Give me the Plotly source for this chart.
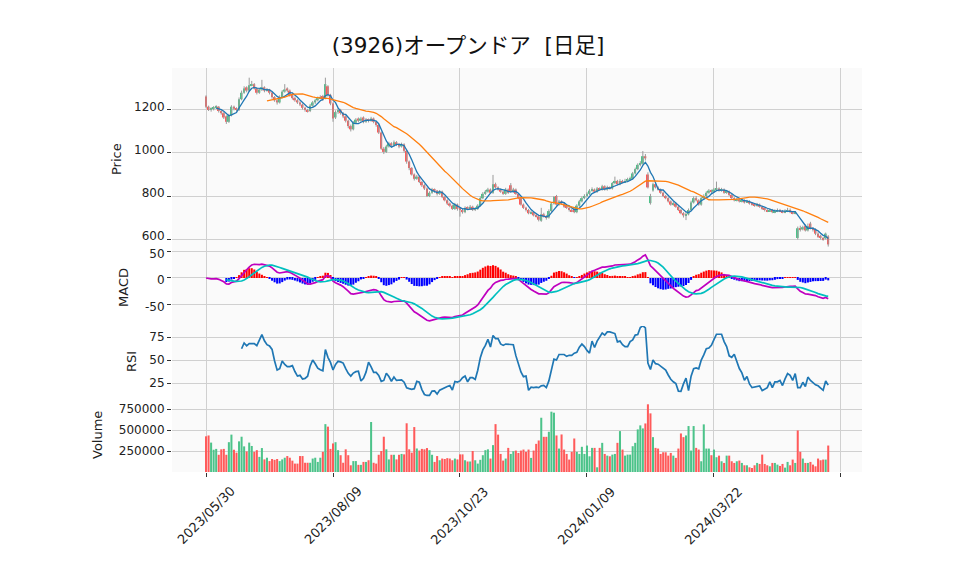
import plotly.graph_objects as go
from plotly.subplots import make_subplots
import pandas as pd

title_text = "(3926)オープンドア  [日足]"
tick_index = [0, 50, 100, 150, 200, 250]
tick_labels = ["2023/05/30", "2023/08/09", "2023/10/23", "2024/01/09", "2024/03/22", ""]

opens = [
1262,1215,1200,1205,1210,1215,1195,1185,1170,1145,
1175,1215,1205,1200,1250,1280,1305,1290,1315,1320,
1300,1280,1295,1305,1290,1295,1280,1260,1245,1235,
1260,1285,1300,1290,1270,1255,1245,1235,1225,1210,
1200,1195,1220,1235,1245,1255,1265,1254,1310,1270,
1230,1165,1190,1200,1185,1170,1150,1125,1110,1140,
1160,1150,1165,1145,1155,1150,1160,1145,1130,1095,
1020,1005,1030,1045,1035,1050,1040,1030,1040,1010,
960,930,900,880,890,865,850,835,800,815,
830,825,810,820,795,780,765,755,740,760,
740,735,725,745,740,750,735,740,755,790,
810,820,830,815,855,840,830,820,810,830,
850,820,830,810,790,760,745,735,720,725,
710,705,685,715,705,700,730,765,800,760,
775,765,750,745,735,740,725,755,775,790,
800,810,825,830,820,835,830,845,830,840,
835,860,870,855,870,865,870,875,880,905,
925,945,950,985,900,767,825,855,840,830,
815,800,790,775,760,765,750,735,720,710,
715,735,770,790,780,760,790,800,815,825,
820,830,835,825,830,815,820,805,790,780,
785,775,780,770,775,765,760,755,760,750,
740,735,730,735,725,730,735,730,725,730,
735,725,720,605,650,645,660,640,672,650,
645,625,615,605,603,612]

highs = [
1268,1220,1212,1218,1222,1218,1200,1190,1175,1182,
1222,1220,1212,1258,1290,1310,1310,1350,1335,1325,
1305,1302,1340,1310,1302,1298,1285,1265,1250,1268,
1292,1320,1305,1295,1275,1262,1250,1240,1230,1215,
1205,1228,1242,1252,1262,1268,1270,1350,1315,1275,
1235,1198,1210,1205,1190,1175,1155,1132,1148,1162,
1165,1168,1170,1162,1160,1168,1165,1150,1135,1100,
1028,1038,1052,1050,1058,1055,1045,1048,1045,1015,
965,935,905,898,895,870,855,840,822,838,
835,828,828,825,800,785,770,760,768,765,
745,740,752,752,758,755,748,762,798,818,
828,838,835,898,862,845,835,825,838,835,
860,838,835,812,795,765,750,740,732,730,
718,710,745,722,712,738,770,800,805,782,
780,770,755,750,742,745,762,782,798,808,
818,832,840,835,842,840,852,850,848,845,
865,890,875,878,875,880,885,890,912,932,
952,962,1009,995,910,810,862,860,845,835,
820,805,795,780,775,770,755,740,725,725,
742,778,798,800,785,798,808,822,832,830,
838,867,840,838,835,828,825,810,795,792,
790,788,785,782,780,770,765,768,765,755,
745,740,742,740,738,742,740,735,738,745,
742,730,730,658,662,662,668,672,680,655,
650,632,620,610,630,618]

lows = [
1208,1195,1192,1198,1205,1188,1178,1158,1135,1140,
1170,1198,1192,1195,1245,1275,1282,1285,1310,1295,
1272,1275,1288,1282,1285,1272,1252,1238,1225,1230,
1255,1280,1282,1262,1248,1238,1228,1218,1202,1192,
1188,1190,1215,1228,1240,1250,1242,1250,1262,1222,
1145,1158,1182,1178,1162,1142,1115,1100,1105,1135,
1142,1145,1138,1140,1142,1145,1138,1122,1088,1015,
995,1000,1025,1028,1030,1032,1022,1025,1002,950,
920,895,872,875,860,842,828,795,795,810,
815,802,805,790,775,758,748,735,735,732,
704,718,720,735,735,730,730,735,750,785,
805,815,810,810,835,825,815,805,805,810,
815,815,805,785,755,740,728,715,715,705,
700,682,680,700,690,695,725,760,755,755,
760,745,740,728,725,720,720,750,770,785,
795,805,820,815,815,825,825,825,825,830,
830,855,850,850,860,860,865,870,875,900,
920,938,945,965,835,760,820,835,825,810,
795,785,770,755,755,745,730,715,700,688,
710,730,765,775,755,755,785,795,810,812,
815,825,820,820,810,810,800,785,775,775,
770,770,765,768,760,755,750,750,745,735,
728,725,728,720,720,725,725,720,720,725,
720,715,715,598,635,640,635,635,645,635,
618,605,598,592,598,565]

closes = [
1215,1200,1205,1210,1215,1195,1185,1165,1145,1175,
1215,1205,1200,1250,1280,1300,1290,1315,1320,1300,
1280,1295,1305,1290,1295,1280,1260,1245,1235,1260,
1285,1295,1290,1270,1255,1245,1235,1225,1210,1200,
1195,1220,1235,1245,1255,1260,1250,1320,1270,1230,
1160,1190,1200,1185,1170,1150,1125,1110,1140,1155,
1150,1160,1145,1155,1150,1160,1145,1130,1095,1020,
1005,1030,1045,1035,1050,1040,1030,1040,1010,960,
930,900,880,890,865,850,835,800,815,830,
825,810,820,795,780,765,755,740,760,740,
735,725,745,740,750,735,740,755,790,810,
820,830,815,855,840,830,820,810,830,815,
820,830,810,790,760,745,735,720,725,710,
705,690,715,705,700,730,765,795,760,775,
765,750,745,735,730,725,755,775,790,800,
810,825,830,820,835,830,845,830,840,835,
860,870,855,870,865,870,875,880,905,925,
945,950,985,975,840,800,855,840,830,815,
800,790,775,760,765,750,735,720,710,715,
735,770,790,780,760,790,800,815,825,820,
830,835,825,830,815,820,805,790,780,785,
775,780,770,775,765,760,755,760,750,740,
735,730,735,725,730,735,730,725,730,735,
725,720,725,650,645,655,640,660,650,645,
625,610,605,600,625,575]

volumes = [
425000,435000,350000,265000,275000,205000,270000,275000,205000,355000,
445000,265000,230000,365000,420000,305000,245000,350000,310000,240000,
260000,180000,285000,150000,170000,130000,155000,145000,155000,130000,
150000,170000,190000,170000,135000,100000,100000,190000,190000,110000,
110000,110000,160000,170000,120000,170000,240000,570000,540000,275000,
340000,355000,260000,200000,110000,270000,200000,80000,130000,130000,
85000,85000,120000,120000,140000,595000,110000,100000,205000,250000,
420000,270000,150000,205000,205000,150000,205000,215000,210000,580000,
270000,230000,535000,280000,255000,275000,270000,285000,260000,205000,
120000,190000,140000,160000,155000,165000,160000,140000,160000,150000,
210000,210000,140000,125000,125000,250000,140000,100000,145000,200000,
260000,270000,160000,320000,570000,445000,215000,136000,160000,287000,
215000,247000,255000,227000,255000,267000,240000,267000,168000,255000,
335000,375000,646000,419000,419000,479000,718000,706000,435000,279000,
447000,267000,215000,148000,240000,399000,240000,215000,300000,215000,
315000,187000,287000,287000,56000,287000,347000,215000,195000,187000,
207000,215000,347000,487000,267000,195000,207000,207000,307000,347000,
507000,555000,519000,578000,806000,698000,415000,287000,279000,215000,
235000,235000,195000,227000,195000,168000,279000,459000,415000,435000,
547000,255000,547000,287000,267000,128000,567000,279000,279000,200000,
267000,176000,195000,128000,108000,195000,195000,128000,108000,128000,
136000,108000,80000,80000,56000,48000,80000,108000,96000,207000,
96000,80000,68000,108000,108000,88000,72000,96000,52000,120000,
80000,148000,108000,495000,240000,160000,108000,108000,120000,88000,
68000,160000,140000,148000,148000,315000]

UP = "#4cc38a"
DOWN = "#ff5a5a"
WICK = "#9a9a9a"

n = len(closes)
idx = list(range(n))
s = pd.Series(closes, dtype=float)
ma5 = s.rolling(5).mean()
ma25 = s.rolling(25).mean()
macd = s.ewm(span=12, adjust=False).mean() - s.ewm(span=26, adjust=False).mean()
signal = macd.rolling(9).mean()
hist = macd - signal
delta = s.diff()
gain = delta.clip(lower=0).rolling(14).mean()
loss = (-delta.clip(upper=0)).rolling(14).mean()
rsi = 100 - 100 / (1 + gain / loss)

body_h = [abs(c - o) for o, c in zip(opens, closes)]
body_b = [min(o, c) for o, c in zip(opens, closes)]
body_c = [UP if c >= o else DOWN for o, c in zip(opens, closes)]
vol_c = [UP if closes[0] >= opens[0] else DOWN] + [UP if closes[i] >= closes[i - 1] else DOWN for i in range(1, n)]
hist_c = ["#ff0000" if (h >= 0) else "#0000ff" for h in hist.fillna(0)]

wx, wy = [], []
for i in idx:
    wx += [i, i, None]
    wy += [lows[i], highs[i], None]

fig = make_subplots(rows=4, cols=1, shared_xaxes=True, vertical_spacing=0,
                    row_heights=[182, 76, 72, 74])

fig.add_trace(go.Scatter(x=wx, y=wy, mode="lines", line=dict(color=WICK, width=1), hoverinfo="skip"), row=1, col=1)
fig.add_trace(go.Bar(x=idx, y=body_h, base=body_b, marker=dict(color=body_c, line=dict(width=0)), width=0.75), row=1, col=1)
fig.add_trace(go.Scatter(x=idx, y=ma5, mode="lines", line=dict(color="#1f77b4", width=1.3)), row=1, col=1)
fig.add_trace(go.Scatter(x=idx, y=ma25, mode="lines", line=dict(color="#ff7f0e", width=1.3)), row=1, col=1)

fig.add_trace(go.Bar(x=idx, y=hist, marker=dict(color=hist_c, line=dict(width=0)), width=0.8), row=2, col=1)
fig.add_trace(go.Scatter(x=idx, y=macd, mode="lines", line=dict(color="#bf00bf", width=1.7)), row=2, col=1)
fig.add_trace(go.Scatter(x=idx, y=signal, mode="lines", line=dict(color="#00bfbf", width=1.7)), row=2, col=1)

fig.add_trace(go.Scatter(x=idx, y=rsi, mode="lines", line=dict(color="#1f77b4", width=1.7)), row=3, col=1)

fig.add_trace(go.Bar(x=idx, y=volumes, marker=dict(color=vol_c, line=dict(width=0)), width=0.8), row=4, col=1)

GRID = "#d0d0d0"
FONT = "DejaVu Sans, Noto Sans CJK JP"
for r in range(1, 5):
    fig.update_xaxes(row=r, col=1, range=[-13.4, 258.3], tickvals=tick_index,
                     showgrid=True, gridcolor=GRID, gridwidth=1.2, zeroline=False, showline=False,
                     showticklabels=False, ticks=("outside" if r == 4 else ""), ticklen=4,
                     tickcolor="#333333", automargin=False)

# ticklabelshift: positive values move y labels down on screen
yspecs = [
    (1, [549, 1395], [600, 800, 1000, 1200], -3),
    (2, [-90.6, 52.8], [-50, 0, 50], 2),
    (3, [8.7, 87], [25, 50, 75], 0),
    (4, [0, 881000], [250000, 500000, 750000], 0),
]
for r, rng, tv, shift in yspecs:
    fig.update_yaxes(row=r, col=1, range=rng, tickvals=tv, ticktext=[str(v) for v in tv],
                     showgrid=True, gridcolor=GRID, gridwidth=1.2, zeroline=False, showline=False,
                     ticks="outside", ticklen=4, tickcolor="#333333", automargin=False,
                     ticklabelshift=shift,
                     tickfont=dict(family=FONT, size=12, color="#222222"))

# the page body has an 8px offset, so the plot area is placed to compensate
OFF = 8
W, H = 958, 575
L, R, T, B = 172, 862, 68, 472

anns = []
ylabels = [("Price", 116, 159), ("MACD", 123, 288), ("RSI", 131, 362), ("Volume", 97, 435)]
for txt, px, py in ylabels:
    anns.append(dict(text=txt, x=(px - L) / (R - L), y=(B - py) / (B - T), xref="paper", yref="paper",
                     showarrow=False, textangle=-90, xanchor="center", yanchor="middle",
                     font=dict(family=FONT, size=13, color="#222222")))

# date labels centred under their ticks, rotated 45 degrees
for tv, tt in zip(tick_index, tick_labels):
    if tt:
        anns.append(dict(text=tt, x=tv, xref="x4", y=(B - 481) / (B - T), yref="paper",
                         showarrow=False, textangle=-45, xanchor="center", yanchor="top",
                         font=dict(family=FONT, size=13, color="#222222")))

fig.update_layout(
    width=W, height=H,
    margin=dict(l=L - OFF, r=W + OFF - R, t=T - OFF, b=H + OFF - B, autoexpand=False),
    paper_bgcolor="white", plot_bgcolor="#fafafa",
    showlegend=False, barmode="overlay",
    title=dict(text=title_text, x=(468 - L) / (R - L), xref="paper", xanchor="center",
               y=1 - (45 - OFF) / H, yref="container", yanchor="middle",
               font=dict(family=FONT, size=21.5, color="#111111")),
    annotations=anns,
)

fig.write_html("out.html")
